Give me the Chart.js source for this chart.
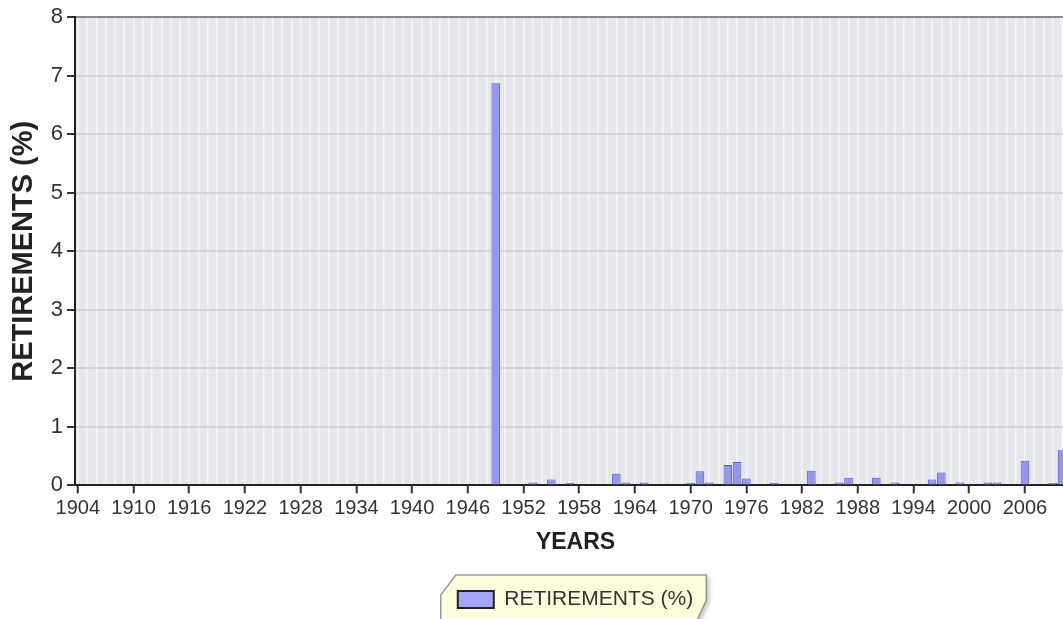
<!DOCTYPE html>
<html>
<head>
<meta charset="utf-8">
<script src="https://cdn.jsdelivr.net/npm/chart.js@4.4.1/dist/chart.umd.min.js"></script>
<style>
  html, body { margin: 0; padding: 0; background: #fff; overflow: hidden; }
  #wrap { width: 1080px; height: 630px; position: relative; }
</style>
</head>
<body>
<div id="wrap"><canvas id="chart"></canvas></div>
<script>
// years that have a bar and their heights (%)
const barYears = [1949, 1953, 1955, 1957, 1962, 1963, 1965, 1970, 1971, 1972,
                  1974, 1975, 1976, 1979, 1983, 1986, 1987, 1990, 1992, 1996,
                  1997, 1999, 2002, 2003, 2006, 2009, 2010];
const barValues = [6.87, 0.05, 0.1, 0.04, 0.2, 0.05, 0.05, 0.04, 0.24, 0.05,
                   0.35, 0.4, 0.12, 0.04, 0.25, 0.05, 0.13, 0.13, 0.05, 0.1,
                   0.22, 0.05, 0.05, 0.05, 0.42, 0.04, 0.6];
// labelled years on the x axis
const tickYears = [1904, 1910, 1916, 1922, 1928, 1934, 1940, 1946, 1952, 1958,
                   1964, 1970, 1976, 1982, 1988, 1994, 2000, 2006];
const firstYear = 1904, lastYear = 2011;
const seriesName = "RETIREMENTS (%)";

const FONT = "'Liberation Sans', Arial, sans-serif";

// grey plot area + the yellow legend plate
const plotBackground = {
  id: "plotBackground",
  beforeDraw(chart) {
    const {ctx, chartArea: a} = chart;
    ctx.save();
    ctx.fillStyle = "#e6e7ea";
    ctx.fillRect(a.left, a.top, a.right - a.left, a.bottom - a.top);

    const hb = chart.legend.legendHitBoxes[0];
    if (hb) {
      const L = hb.left, T = hb.top, R = hb.left + hb.width;
      ctx.beginPath();
      ctx.moveTo(L - 2, T - 14);
      ctx.lineTo(R + 13, T - 14);
      ctx.lineTo(R + 13, T + 11);
      ctx.lineTo(R + 3, T + 33);
      ctx.lineTo(R + 3, T + 60);
      ctx.lineTo(L - 17, T + 60);
      ctx.lineTo(L - 17, T + 6);
      ctx.closePath();
      ctx.shadowColor = "rgba(0,0,0,0.25)";
      ctx.shadowOffsetX = 3;
      ctx.shadowOffsetY = 2;
      ctx.shadowBlur = 4;
      ctx.fillStyle = "#fdfdde";
      ctx.fill();
      ctx.shadowColor = "transparent";
      ctx.strokeStyle = "#9a9a9a";
      ctx.lineWidth = 1.5;
      ctx.stroke();
    }
    ctx.restore();
  }
};

const ctx = document.getElementById("chart").getContext("2d");
new Chart(ctx, {
  type: "bar",
  data: {
    datasets: [{
      label: seriesName,
      data: barYears.map((y, i) => ({x: y, y: barValues[i]})),
      backgroundColor: "#9494f4",
      borderColor: "#5a5ac8",
      borderWidth: 1,
      categoryPercentage: 1,
      barPercentage: 0.92
    }]
  },
  options: {
    responsive: true,
    maintainAspectRatio: false,
    animation: false,
    layout: { padding: { top: 17, right: 4, bottom: 10, left: 0 } },
    scales: {
      x: {
        type: "linear",
        min: 1903.7,
        max: 2011.5,
        offset: false,
        afterBuildTicks(scale) {
          const ticks = [];
          for (let y = firstYear; y <= lastYear; y++) ticks.push({value: y});
          scale.ticks = ticks;
        },
        ticks: {
          autoSkip: false,
          maxRotation: 0,
          padding: 3,
          color: "#333",
          font: { family: FONT, size: 20 },
          callback: (v) => tickYears.includes(v) ? String(v) : ""
        },
        grid: {
          offset: false,
          color: "#f6f6f8",
          lineWidth: 1.5,
          tickLength: 8,
          tickWidth: 2,
          tickColor: (c) => (c.tick && tickYears.includes(c.tick.value)) ? "#333" : "rgba(0,0,0,0)"
        },
        border: { color: "#222", width: 2 },
        title: {
          display: true,
          text: "YEARS",
          color: "#222",
          font: { family: FONT, size: 23, weight: "bold" },
          padding: { top: 5, bottom: 23 }
        }
      },
      y: {
        min: 0,
        max: 8,
        ticks: {
          stepSize: 1,
          padding: 4,
          color: "#333",
          font: { family: FONT, size: 22 }
        },
        grid: {
          color: (c) => (c.tick && c.tick.value === 8) ? "#8a8a8a" : "#d3d4d7",
          lineWidth: 2,
          tickLength: 8,
          tickWidth: 2,
          tickColor: "#333"
        },
        border: { color: "#222", width: 2 },
        title: {
          display: true,
          text: "RETIREMENTS (%)",
          color: "#222",
          font: { family: FONT, size: 29, weight: "bold" },
          padding: { top: 7, bottom: 5 }
        }
      }
    },
    plugins: {
      tooltip: { enabled: false },
      legend: {
        position: "bottom",
        fullSize: false,
        labels: {
          boxWidth: 36,
          boxHeight: 17,
          padding: 10,
          color: "#333",
          font: { family: FONT, size: 21 },
          generateLabels(chart) {
            const items = Chart.defaults.plugins.legend.labels.generateLabels(chart);
            items.forEach(it => { it.fillStyle = "#a4a4f8"; it.strokeStyle = "#222"; it.lineWidth = 2; });
            return items;
          }
        }
      }
    }
  },
  plugins: [plotBackground]
});
</script>
</body>
</html>
